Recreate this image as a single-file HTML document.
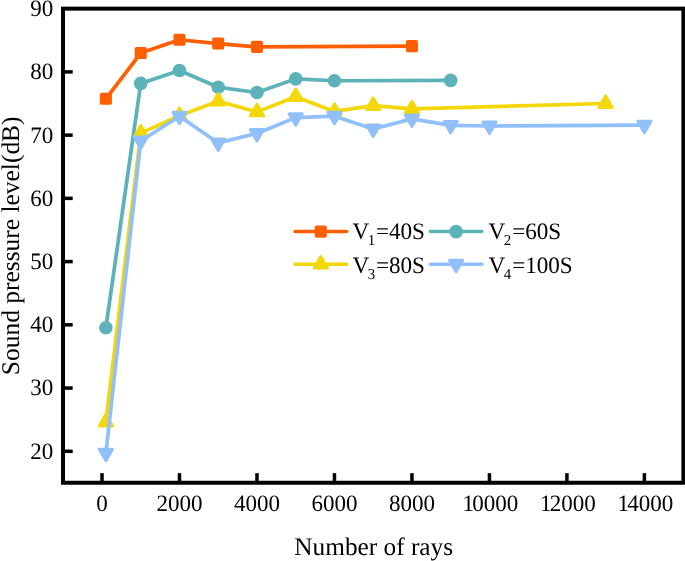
<!DOCTYPE html>
<html><head><meta charset="utf-8"><title>Sound pressure level vs number of rays</title>
<style>
html,body{margin:0;padding:0;background:#fff;}
body{width:685px;height:561px;overflow:hidden;}
svg{display:block;}
text{font-family:"Liberation Serif",serif;fill:#000;text-rendering:geometricPrecision;}
.tk{font-size:23.5px;}
.ti{font-size:25.3px;}
.lg{font-size:23.6px;}
.sub{font-size:15.2px;}
</style></head><body>
<svg width="685" height="561" viewBox="0 0 685 561">
<rect width="685" height="561" fill="#fff"/>
<polyline points="105.87,98.80 140.74,53.05 179.49,39.76 218.23,43.56 256.97,46.91 411.94,46.09" fill="none" stroke="#ff5f00" stroke-width="3.7" stroke-linejoin="round" stroke-linecap="round"/>
<rect x="99.82" y="92.75" width="12.1" height="12.1" rx="1.9" fill="#ff5f00"/>
<rect x="134.69" y="47.00" width="12.1" height="12.1" rx="1.9" fill="#ff5f00"/>
<rect x="173.44" y="33.71" width="12.1" height="12.1" rx="1.9" fill="#ff5f00"/>
<rect x="212.18" y="37.51" width="12.1" height="12.1" rx="1.9" fill="#ff5f00"/>
<rect x="250.92" y="40.86" width="12.1" height="12.1" rx="1.9" fill="#ff5f00"/>
<rect x="405.89" y="40.04" width="12.1" height="12.1" rx="1.9" fill="#ff5f00"/>
<polyline points="105.87,327.70 140.74,83.42 179.49,70.51 218.23,87.22 256.97,92.54 295.71,78.87 334.46,80.77 450.69,80.39" fill="none" stroke="#5bb2b9" stroke-width="3.7" stroke-linejoin="round" stroke-linecap="round"/>
<circle cx="105.87" cy="327.70" r="6.8" fill="#5bb2b9"/>
<circle cx="140.74" cy="83.42" r="6.8" fill="#5bb2b9"/>
<circle cx="179.49" cy="70.51" r="6.8" fill="#5bb2b9"/>
<circle cx="218.23" cy="87.22" r="6.8" fill="#5bb2b9"/>
<circle cx="256.97" cy="92.54" r="6.8" fill="#5bb2b9"/>
<circle cx="295.71" cy="78.87" r="6.8" fill="#5bb2b9"/>
<circle cx="334.46" cy="80.77" r="6.8" fill="#5bb2b9"/>
<circle cx="450.69" cy="80.39" r="6.8" fill="#5bb2b9"/>
<polyline points="105.87,421.99 140.74,133.10 179.49,115.70 218.23,101.21 256.97,111.90 295.71,96.71 334.46,111.40 373.20,105.70 411.94,108.86 605.66,103.48" fill="none" stroke="#f3d709" stroke-width="3.7" stroke-linejoin="round" stroke-linecap="round"/>
<polygon points="105.87,414.39 112.47,425.89 99.27,425.89" fill="#f3d709" stroke="#f3d709" stroke-width="3" stroke-linejoin="round"/>
<polygon points="140.74,125.50 147.34,137.00 134.14,137.00" fill="#f3d709" stroke="#f3d709" stroke-width="3" stroke-linejoin="round"/>
<polygon points="179.49,108.10 186.09,119.60 172.89,119.60" fill="#f3d709" stroke="#f3d709" stroke-width="3" stroke-linejoin="round"/>
<polygon points="218.23,93.61 224.83,105.11 211.63,105.11" fill="#f3d709" stroke="#f3d709" stroke-width="3" stroke-linejoin="round"/>
<polygon points="256.97,104.30 263.57,115.80 250.37,115.80" fill="#f3d709" stroke="#f3d709" stroke-width="3" stroke-linejoin="round"/>
<polygon points="295.71,89.11 302.31,100.61 289.11,100.61" fill="#f3d709" stroke="#f3d709" stroke-width="3" stroke-linejoin="round"/>
<polygon points="334.46,103.80 341.06,115.30 327.86,115.30" fill="#f3d709" stroke="#f3d709" stroke-width="3" stroke-linejoin="round"/>
<polygon points="373.20,98.10 379.80,109.60 366.60,109.60" fill="#f3d709" stroke="#f3d709" stroke-width="3" stroke-linejoin="round"/>
<polygon points="411.94,101.26 418.54,112.76 405.34,112.76" fill="#f3d709" stroke="#f3d709" stroke-width="3" stroke-linejoin="round"/>
<polygon points="605.66,95.88 612.26,107.38 599.06,107.38" fill="#f3d709" stroke="#f3d709" stroke-width="3" stroke-linejoin="round"/>
<polyline points="105.87,453.19 140.74,141.01 179.49,116.20 218.23,142.91 256.97,133.42 295.71,117.60 334.46,116.14 373.20,128.99 411.94,118.86 450.69,125.44 489.43,126.01 644.40,125.19" fill="none" stroke="#91bffa" stroke-width="3.7" stroke-linejoin="round" stroke-linecap="round"/>
<polygon points="105.87,460.79 112.47,449.29 99.27,449.29" fill="#91bffa" stroke="#91bffa" stroke-width="3" stroke-linejoin="round"/>
<polygon points="140.74,148.61 147.34,137.11 134.14,137.11" fill="#91bffa" stroke="#91bffa" stroke-width="3" stroke-linejoin="round"/>
<polygon points="179.49,123.80 186.09,112.30 172.89,112.30" fill="#91bffa" stroke="#91bffa" stroke-width="3" stroke-linejoin="round"/>
<polygon points="218.23,150.51 224.83,139.01 211.63,139.01" fill="#91bffa" stroke="#91bffa" stroke-width="3" stroke-linejoin="round"/>
<polygon points="256.97,141.02 263.57,129.52 250.37,129.52" fill="#91bffa" stroke="#91bffa" stroke-width="3" stroke-linejoin="round"/>
<polygon points="295.71,125.20 302.31,113.70 289.11,113.70" fill="#91bffa" stroke="#91bffa" stroke-width="3" stroke-linejoin="round"/>
<polygon points="334.46,123.74 341.06,112.24 327.86,112.24" fill="#91bffa" stroke="#91bffa" stroke-width="3" stroke-linejoin="round"/>
<polygon points="373.20,136.59 379.80,125.09 366.60,125.09" fill="#91bffa" stroke="#91bffa" stroke-width="3" stroke-linejoin="round"/>
<polygon points="411.94,126.46 418.54,114.96 405.34,114.96" fill="#91bffa" stroke="#91bffa" stroke-width="3" stroke-linejoin="round"/>
<polygon points="450.69,133.04 457.29,121.54 444.09,121.54" fill="#91bffa" stroke="#91bffa" stroke-width="3" stroke-linejoin="round"/>
<polygon points="489.43,133.61 496.03,122.11 482.83,122.11" fill="#91bffa" stroke="#91bffa" stroke-width="3" stroke-linejoin="round"/>
<polygon points="644.40,132.79 651.00,121.29 637.80,121.29" fill="#91bffa" stroke="#91bffa" stroke-width="3" stroke-linejoin="round"/>
<rect x="63.0" y="8.65" width="620.40" height="474.10" fill="none" stroke="#000" stroke-width="4"/>
<line x1="63.0" y1="451.30" x2="72.70" y2="451.30" stroke="#000" stroke-width="3.5"/>
<line x1="63.0" y1="388.07" x2="72.70" y2="388.07" stroke="#000" stroke-width="3.5"/>
<line x1="63.0" y1="324.83" x2="72.70" y2="324.83" stroke="#000" stroke-width="3.5"/>
<line x1="63.0" y1="261.60" x2="72.70" y2="261.60" stroke="#000" stroke-width="3.5"/>
<line x1="63.0" y1="198.37" x2="72.70" y2="198.37" stroke="#000" stroke-width="3.5"/>
<line x1="63.0" y1="135.14" x2="72.70" y2="135.14" stroke="#000" stroke-width="3.5"/>
<line x1="63.0" y1="71.90" x2="72.70" y2="71.90" stroke="#000" stroke-width="3.5"/>
<line x1="102.00" y1="482.75" x2="102.00" y2="473.15" stroke="#000" stroke-width="3.5"/>
<line x1="179.49" y1="482.75" x2="179.49" y2="473.15" stroke="#000" stroke-width="3.5"/>
<line x1="256.97" y1="482.75" x2="256.97" y2="473.15" stroke="#000" stroke-width="3.5"/>
<line x1="334.46" y1="482.75" x2="334.46" y2="473.15" stroke="#000" stroke-width="3.5"/>
<line x1="411.94" y1="482.75" x2="411.94" y2="473.15" stroke="#000" stroke-width="3.5"/>
<line x1="489.43" y1="482.75" x2="489.43" y2="473.15" stroke="#000" stroke-width="3.5"/>
<line x1="566.91" y1="482.75" x2="566.91" y2="473.15" stroke="#000" stroke-width="3.5"/>
<line x1="644.40" y1="482.75" x2="644.40" y2="473.15" stroke="#000" stroke-width="3.5"/>
<text class="tk" transform="translate(53.2,458.70) scale(0.98,1)" text-anchor="end">20</text>
<text class="tk" transform="translate(53.2,395.47) scale(0.98,1)" text-anchor="end">30</text>
<text class="tk" transform="translate(53.2,332.23) scale(0.98,1)" text-anchor="end">40</text>
<text class="tk" transform="translate(53.2,269.00) scale(0.98,1)" text-anchor="end">50</text>
<text class="tk" transform="translate(53.2,205.77) scale(0.98,1)" text-anchor="end">60</text>
<text class="tk" transform="translate(53.2,142.54) scale(0.98,1)" text-anchor="end">70</text>
<text class="tk" transform="translate(53.2,79.30) scale(0.98,1)" text-anchor="end">80</text>
<text class="tk" transform="translate(53.2,16.07) scale(0.98,1)" text-anchor="end">90</text>
<text class="tk" transform="translate(102.00,510.8) scale(0.98,1)" text-anchor="middle">0</text>
<text class="tk" transform="translate(179.49,510.8) scale(0.98,1)" text-anchor="middle">2000</text>
<text class="tk" transform="translate(256.97,510.8) scale(0.98,1)" text-anchor="middle">4000</text>
<text class="tk" transform="translate(334.46,510.8) scale(0.98,1)" text-anchor="middle">6000</text>
<text class="tk" transform="translate(411.94,510.8) scale(0.98,1)" text-anchor="middle">8000</text>
<text class="tk" transform="translate(490.43,510.8) scale(0.98,1)" text-anchor="middle">1<tspan dx="-1.9">0000</tspan></text>
<text class="tk" transform="translate(567.91,510.8) scale(0.98,1)" text-anchor="middle">1<tspan dx="-1.9">2000</tspan></text>
<text class="tk" transform="translate(645.40,510.8) scale(0.98,1)" text-anchor="middle">1<tspan dx="-1.9">4000</tspan></text>
<text class="ti" x="373.7" y="555.1" text-anchor="middle">Number of rays</text>
<text class="ti" style="font-size:25.46px" transform="translate(18.5,245.8) rotate(-90)" text-anchor="middle">Sound pressure level(dB)</text>
<line x1="295.1" y1="231.6" x2="346.6" y2="231.6" stroke="#ff5f00" stroke-width="3.5" stroke-linecap="round"/>
<rect x="314.75" y="225.55" width="12.1" height="12.1" rx="1.9" fill="#ff5f00"/>
<text class="lg" transform="translate(352.4,238.70) scale(0.98,1)">V<tspan class="sub" dy="6.1" dx="-1.5">1</tspan><tspan dy="-6.1" dx="0.9">=40S</tspan></text>
<line x1="430.4" y1="231.6" x2="481.9" y2="231.6" stroke="#5bb2b9" stroke-width="3.5" stroke-linecap="round"/>
<circle cx="456.10" cy="231.60" r="6.8" fill="#5bb2b9"/>
<text class="lg" transform="translate(488.6,238.70) scale(0.98,1)">V<tspan class="sub" dy="6.1" dx="-1.5">2</tspan><tspan dy="-6.1" dx="0.9">=60S</tspan></text>
<line x1="295.1" y1="264.2" x2="346.6" y2="264.2" stroke="#f3d709" stroke-width="3.5" stroke-linecap="round"/>
<polygon points="320.80,256.60 327.40,268.10 314.20,268.10" fill="#f3d709" stroke="#f3d709" stroke-width="3" stroke-linejoin="round"/>
<text class="lg" transform="translate(352.4,272.50) scale(0.98,1)">V<tspan class="sub" dy="6.1" dx="-1.5">3</tspan><tspan dy="-6.1" dx="0.9">=80S</tspan></text>
<line x1="430.4" y1="264.2" x2="481.9" y2="264.2" stroke="#91bffa" stroke-width="3.5" stroke-linecap="round"/>
<polygon points="456.10,271.80 462.70,260.30 449.50,260.30" fill="#91bffa" stroke="#91bffa" stroke-width="3" stroke-linejoin="round"/>
<text class="lg" transform="translate(488.6,272.50) scale(0.98,1)">V<tspan class="sub" dy="6.1" dx="-1.5">4</tspan><tspan dy="-6.1" dx="0.9">=100S</tspan></text>
</svg></body></html>
